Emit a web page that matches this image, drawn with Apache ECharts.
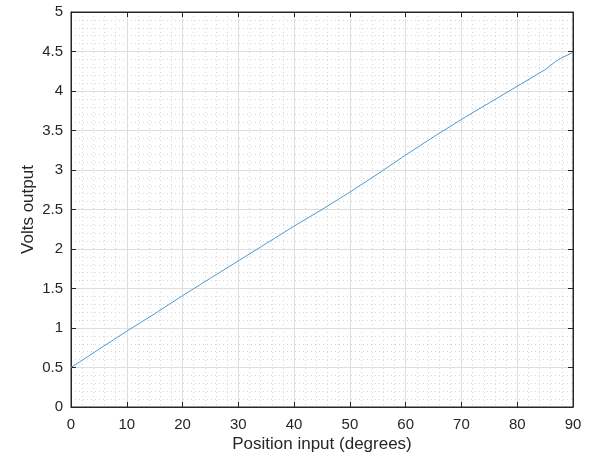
<!DOCTYPE html>
<html>
<head>
<meta charset="utf-8">
<script src="https://cdn.jsdelivr.net/npm/echarts@6/dist/echarts.min.js"></script>
<style>
  html, body { margin: 0; padding: 0; background: #fff; }
  #chart { width: 591px; height: 462px; }
</style>
</head>
<body>
<div id="chart"></div>
<script>
// position input in degrees and the measured voltage
const positionDeg = [0, 5, 10, 15, 20, 25, 30, 35, 40, 45, 50, 55, 60, 65, 70, 75, 80, 85, 87, 88, 90];
const voltsOut = [0.50, 0.73, 0.96, 1.18, 1.41, 1.63, 1.85, 2.07, 2.29, 2.50, 2.72, 2.95, 3.19, 3.42, 3.64, 3.85, 4.06, 4.27, 4.38, 4.42, 4.49];

const xTitle = 'Position input (degrees)';
const yTitle = 'Volts output';

const axisColor = '#262626';
const font = 'Liberation Sans, Arial, sans-serif';

function boxAxis(pos, min, max, interval) {
  // top / right edge of the box: line + inward ticks, no labels
  return {
    type: 'value', position: pos, min: min, max: max, interval: interval,
    axisLine: { show: true, onZero: false, lineStyle: { color: axisColor, width: 1 } },
    axisTick: { show: true, inside: true, length: 5, lineStyle: { color: axisColor } },
    axisLabel: { show: false },
    splitLine: { show: false }
  };
}

const chart = echarts.init(document.getElementById('chart'));
chart.setOption({
  animation: false,
  backgroundColor: '#fff',
  grid: { left: 71, top: 12, right: 18, bottom: 55, containLabel: false,
          show: true, borderColor: axisColor, borderWidth: 1 },
  xAxis: [
    {
      type: 'value', min: 0, max: 90, interval: 10,
      name: xTitle, nameLocation: 'middle', nameGap: 29, nameMoveOverlap: false,
      nameTextStyle: { color: axisColor, fontSize: 17, fontFamily: font },
      axisLine: { show: true, onZero: false, lineStyle: { color: axisColor, width: 1 } },
      axisTick: { show: true, inside: true, length: 5, lineStyle: { color: axisColor } },
      axisLabel: { color: axisColor, fontSize: 15, fontFamily: font, margin: 10 },
      splitLine: { show: true, lineStyle: { color: '#dedede', width: 1 } },
      minorTick: { show: false, splitNumber: 5 },
      minorSplitLine: { show: true, lineStyle: { color: '#d6d6d6', type: [1, 3], width: 1 } }
    },
    boxAxis('top', 0, 90, 10)
  ],
  yAxis: [
    {
      type: 'value', min: 0, max: 5, interval: 0.5,
      name: yTitle, nameLocation: 'middle', nameGap: 34, nameMoveOverlap: false,
      nameTextStyle: { color: axisColor, fontSize: 17, fontFamily: font },
      axisLine: { show: true, onZero: false, lineStyle: { color: axisColor, width: 1 } },
      axisTick: { show: true, inside: true, length: 5, lineStyle: { color: axisColor } },
      axisLabel: { color: axisColor, fontSize: 15, fontFamily: font, margin: 8 },
      splitLine: { show: true, lineStyle: { color: '#dedede', width: 1 } },
      minorTick: { show: false, splitNumber: 5 },
      minorSplitLine: { show: true, lineStyle: { color: '#d6d6d6', type: [1, 3], width: 1 } }
    },
    boxAxis('right', 0, 5, 0.5)
  ],
  series: [{
    type: 'line',
    data: positionDeg.map((d, i) => [d, voltsOut[i]]),
    showSymbol: false,
    lineStyle: { color: '#4d9bd0', width: 1 },
    silent: true
  }]
});
</script>
</body>
</html>
